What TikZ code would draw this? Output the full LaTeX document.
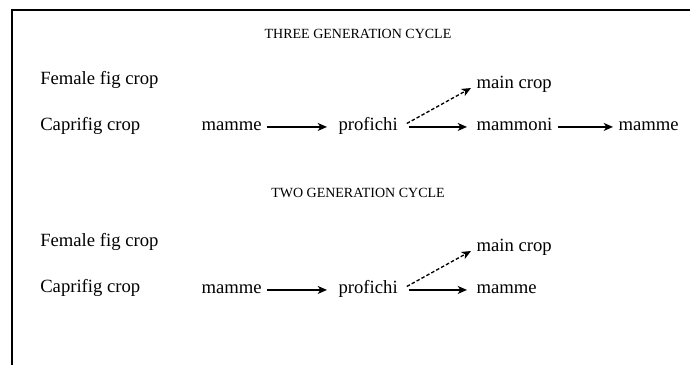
\documentclass[tikz,border=0pt]{standalone}
\usepackage{fontspec}
\setmainfont{Liberation Serif}
\usetikzlibrary{arrows.meta}

\begin{document}
\begin{tikzpicture}[x=0.75pt,y=-0.75pt,
	every node/.style={inner sep=0pt,anchor=base west},
	stage/.style={inner xsep=4pt},
	flow/.style={-{Stealth[length=7pt,width=6pt,inset=2pt]},line width=1pt},
	maybe/.style={flow,dash pattern=on 2.6pt off 1.6pt}]
	\newcommand{\mycropfont}[1]{
		\fontsize{14}{16}\selectfont{#1}
	}\newcommand{\mytitlefont}[1]{
		\fontsize{10.5}{12}\selectfont{#1}
	}%Page size
	\useasboundingbox (0,0) rectangle (691,365);
	%Frame on the top and on the left
	\draw [line width=1.5pt] (12,365) -- (12,10) -- (690,10);
	%Three generation cycle
	\coordinate (titleA) at (358,38);
	\node [anchor=base] (threetitle) at (titleA) {\mytitlefont{THREE GENERATION CYCLE}};
	%Row names
	\coordinate (femaleA) at (40,84);
	\coordinate (caprifigA) at (40,130);
	\node [] (femaleNameA) at (femaleA) {\mycropfont{Female fig crop}};
	\node [] (caprifigNameA) at (caprifigA) {\mycropfont{Caprifig crop}};
	%The crops
	\coordinate (a0) at (196,130);
	\coordinate (a1) at (333,130);
	\coordinate (a2) at (471,130);
	\coordinate (a3) at (613,130);
	\coordinate (aMain) at (471,88);
	\node [stage] (mammeA) at (a0) {\mycropfont{mamme}};
	\node [stage] (profichiA) at (a1) {\mycropfont{profichi}};
	\node [stage] (mammoniA) at (a2) {\mycropfont{mammoni}};
	\node [stage] (mammeEndA) at (a3) {\mycropfont{mamme}};
	\node [stage] (mainA) at (aMain) {\mycropfont{main crop}};
	%Arrows
	\draw [flow,shorten >=4.5pt] (mammeA.mid east) -- (profichiA.mid west);
	\draw [flow,shorten <=4pt,shorten >=3pt] (profichiA.mid east) -- (mammoniA.mid west);
	\draw [flow] (mammoniA.mid east) -- (mammeEndA.mid west);
	\draw [maybe,shorten <=3pt] (profichiA.east) -- (mainA.base west);
	%Two generation cycle
	\coordinate (titleB) at (358,197);
	\node [anchor=base] (twotitle) at (titleB) {\mytitlefont{TWO GENERATION CYCLE}};
	%Row names
	\coordinate (femaleB) at (40,246);
	\coordinate (caprifigB) at (40,292);
	\node [] (femaleNameB) at (femaleB) {\mycropfont{Female fig crop}};
	\node [] (caprifigNameB) at (caprifigB) {\mycropfont{Caprifig crop}};
	%The crops
	\coordinate (b0) at (196,293);
	\coordinate (b1) at (333,293);
	\coordinate (b2) at (471,293);
	\coordinate (bMain) at (471,251);
	\node [stage] (mammeB) at (b0) {\mycropfont{mamme}};
	\node [stage] (profichiB) at (b1) {\mycropfont{profichi}};
	\node [stage] (mammeEndB) at (b2) {\mycropfont{mamme}};
	\node [stage] (mainB) at (bMain) {\mycropfont{main crop}};
	%Arrows
	\draw [flow,shorten >=4.5pt] (mammeB.mid east) -- (profichiB.mid west);
	\draw [flow,shorten <=4pt,shorten >=3pt] (profichiB.mid east) -- (mammeEndB.mid west);
	\draw [maybe,shorten <=3pt] (profichiB.east) -- (mainB.base west);
\end{tikzpicture}
\end{document}
